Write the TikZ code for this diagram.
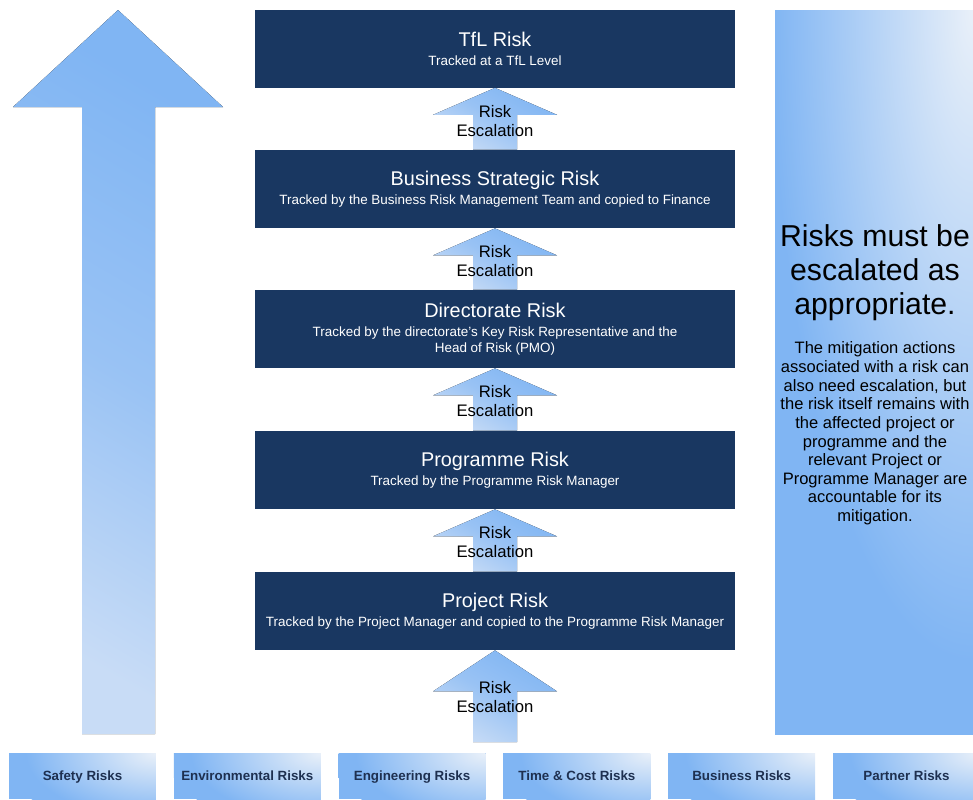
\documentclass[tikz,border=0pt]{standalone}
\usepackage{fontspec}
\setmainfont{Liberation Sans}
\usetikzlibrary{calc,positioning}
\definecolor{RiskNavy}{RGB}{25,55,97}
\definecolor{RiskBlue}{RGB}{128,181,243}
\definecolor{RiskPale}{RGB}{200,220,246}
\definecolor{RiskMist}{RGB}{233,240,249}
\definecolor{LabelNavy}{RGB}{30,48,80}
\pgfdeclareradialshading{panelglow}{\pgfpoint{0bp}{0bp}}{color(0bp)=(RiskMist); color(21bp)=(RiskBlue); color(50bp)=(RiskBlue)}
\newcommand\rtitle{\fontsize{11.3}{13}\selectfont}
\newcommand\riskescalation[4]{%
  \fill[escfill] ($(#2)+(-22,0)$) -- ($(#1.south)+(-22,#3)$) -- ($(#1.south)+(-62,#3)$)
    -- (#1.south) -- ($(#1.south)+(62,#3)$) -- ($(#1.south)+(22,#3)$) -- ($(#2)+(22,0)$) -- cycle;
  \node[esctext] (#4) at ($(#1.south)+(0,#3+6)$) {Risk\\Escalation};
}

\begin{document}
\begin{tikzpicture}[x=0.02cm,y=-0.02cm,
    riskbox/.style={fill=RiskNavy,text=white,minimum width=9.6cm,minimum height=1.56cm,
      inner sep=0pt,align=center,font=\fontsize{7.65}{9}\selectfont},
    escfill/.style={top color=RiskBlue,bottom color=RiskPale,middle color=RiskBlue!65!RiskPale,shading angle=-30},
    esctext/.style={align=center,inner sep=0pt,font=\fontsize{9.5}{10.8}\selectfont},
    catbox/.style={fill=RiskBlue,minimum width=2.94cm,minimum height=0.92cm,inner sep=0pt,
      text height=5.6pt,text depth=0.6pt,
      text=LabelNavy,font=\fontsize{7.6}{9}\selectfont\bfseries,
      path picture={\shade[shading=panelglow]
        (path picture bounding box.north east) ellipse [x radius=3.1cm,y radius=1.55cm];}},
    panel/.style={fill=RiskBlue,minimum width=3.96cm,minimum height=14.5cm,inner sep=0pt,
      path picture={\shade[shading=panelglow]
        (path picture bounding box.north east) ellipse [x radius=4.8cm,y radius=15.5cm];}}]
  \useasboundingbox (0,0) rectangle (973,799);
  \clip (0,0) rectangle (973,799);

  \fill[escfill] (82,734) -- (82,107) -- (13,107) -- (118,10) -- (223,107) -- (155,107) -- (155,734) -- cycle;

  \node[riskbox] (tfl) at (495,48.5) {{\rtitle TfL Risk}\\[1.8pt] Tracked at a TfL Level};
  \node[riskbox] (bsr) at (495,189) {{\rtitle Business Strategic Risk}\\[1.8pt] Tracked by the Business Risk Management Team and copied to Finance};
  \node[riskbox] (dir) at (495,329) {{\rtitle Directorate Risk}\\[1.8pt] Tracked by the directorate’s Key Risk Representative and the\\ Head of Risk (PMO)};
  \node[riskbox] (prog) at (495,470) {{\rtitle Programme Risk}\\[1.8pt] Tracked by the Programme Risk Manager};
  \node[riskbox] (proj) at (495,611) {{\rtitle Project Risk}\\[1.8pt] Tracked by the Project Manager and copied to the Programme Risk Manager};

  \riskescalation{tfl}{bsr.north}{27}{esc1}
  \riskescalation{bsr}{dir.north}{27}{esc2}
  \riskescalation{dir}{prog.north}{27}{esc3}
  \riskescalation{prog}{proj.north}{27}{esc4}
  \coordinate (escbase) at (495,742);
  \riskescalation{proj}{escbase}{41}{esc5}

  \node[panel] (panel) at (874,372.5) {};
  \node[align=center,inner sep=0pt,font=\fontsize{17.2}{19.3}\selectfont] (headline) at (875,273)
    {Risks must be\\escalated as\\appropriate.};
  \node[align=center,inner sep=0pt,font=\fontsize{9.4}{10.6}\selectfont] (mitigation) at (875,433.5)
    {The mitigation actions\\associated with a risk can\\also need escalation, but\\the risk itself remains with\\
     the affected project or\\programme and the\\relevant Project or\\Programme Manager are\\accountable for its\\mitigation.};

  \foreach \cat [count=\i from 0] in {Safety Risks,Environmental Risks,Engineering Risks,Time \& Cost Risks,Business Risks,Partner Risks}
    \node[catbox] (cat\i) at (82.5+164.8*\i,776) {\cat};
\end{tikzpicture}
\end{document}
